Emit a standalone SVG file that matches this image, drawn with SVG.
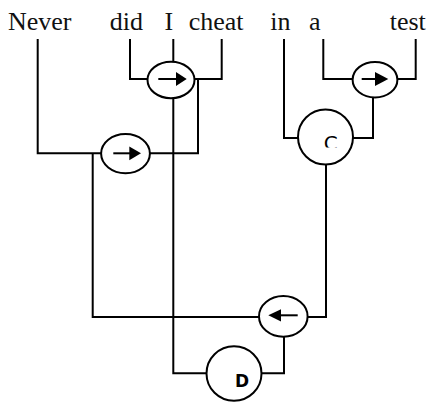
<svg xmlns="http://www.w3.org/2000/svg" width="430" height="403" viewBox="0 0 430 403">
<style>
.w{font-family:"Liberation Serif","Times New Roman",serif;font-size:26px;fill:#111}
.c{fill:none;stroke:#000;stroke-width:2}
.n{fill:#fff;stroke:#000;stroke-width:2}
.a{stroke:#000;stroke-width:2}
.lbl{font-family:"DejaVu Sans",sans-serif;font-size:17px;fill:#000}
</style>
<defs>
<clipPath id="clipC"><rect x="300" y="120" width="50" height="27.5"/></clipPath>
</defs>
<rect width="430" height="403" fill="#fff"/>
<g id="words">
<text class="w" x="8" y="30">Never</text>
<text class="w" x="109.7" y="30">did</text>
<text class="w" x="164.5" y="30">I</text>
<text class="w" x="188.7" y="30">cheat</text>
<text class="w" x="270.3" y="30">in</text>
<text class="w" x="309" y="30">a</text>
<text class="w" x="389.7" y="30">test</text>
</g>
<g id="connectors" class="c">
<polyline points="130,39 130,79 147,79"/>
<line x1="173.3" y1="39" x2="173.3" y2="62"/>
<polyline points="194.5,79 221.7,79 221.7,39"/>
<polyline points="173.3,98 173.3,373.3 207,373.3"/>
<polyline points="198,79 198,153.3 150,153.3"/>
<polyline points="37.7,39 37.7,153.3 101,153.3"/>
<polyline points="92.7,153.3 92.7,317 259,317"/>
<polyline points="307.7,317 326,317 326,164.5"/>
<polyline points="284,39 284,138 298,138"/>
<polyline points="353,138 373,138 373,98"/>
<polyline points="323.3,39 323.3,79 352.5,79"/>
<polyline points="397.5,79 415.7,79 415.7,39"/>
<polyline points="261.5,373.3 284,373.3 284,336.5"/>
</g>
<g id="n1">
<ellipse class="n" cx="171" cy="80" rx="23.5" ry="18.2"/>
<line class="a" x1="158.3" y1="79" x2="177" y2="79"/>
<polygon points="176,72 186.7,79 176,86" fill="#000"/>
</g>
<g id="n2">
<ellipse class="n" cx="125.5" cy="153.6" rx="24.4" ry="19.6"/>
<line class="a" x1="113.3" y1="153.3" x2="130" y2="153.3"/>
<polygon points="129.3,146.5 141,153.3 129.3,160.2" fill="#000"/>
</g>
<g id="n3">
<ellipse class="n" cx="375" cy="79.7" rx="22.4" ry="17.8"/>
<line class="a" x1="361.7" y1="79" x2="376" y2="79"/>
<polygon points="375,72 388.3,79 375,86" fill="#000"/>
</g>
<g id="n4">
<ellipse class="n" cx="325.5" cy="137" rx="27.5" ry="27.5"/>
<text class="lbl" x="323.8" y="149.6" style="font-size:20px" clip-path="url(#clipC)">C</text>
</g>
<g id="n5">
<ellipse class="n" cx="283.3" cy="316.4" rx="24.3" ry="20.3"/>
<line class="a" x1="280" y1="315.3" x2="297.7" y2="315.3"/>
<polygon points="281,309.3 268.3,315.3 281,321.5" fill="#000"/>
</g>
<g id="n6">
<ellipse class="n" cx="234" cy="373.5" rx="27.5" ry="27.3"/>
<text class="lbl" x="235" y="386.7" font-weight="bold">D</text>
</g>
</svg>
